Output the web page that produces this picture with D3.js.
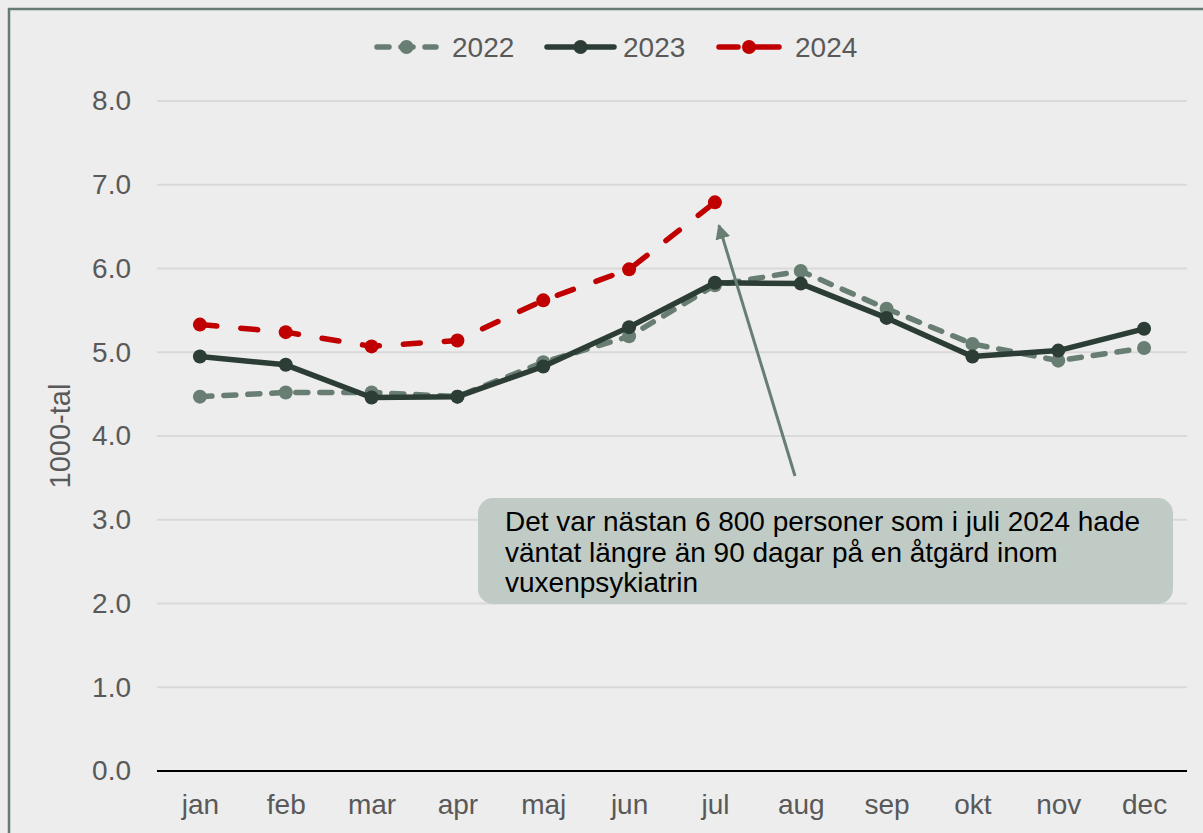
<!DOCTYPE html>
<html>
<head>
<meta charset="utf-8">
<script src="https://cdn.jsdelivr.net/npm/d3@7"></script>
<style>
	html, body { margin: 0; padding: 0; background: #ededed; }
	svg { display: block; font-family: 'Liberation Sans', Arial, sans-serif; }
</style>
</head>
<body>
<div id="viz"></div>
<script>
const MONTHS = ['jan', 'feb', 'mar', 'apr', 'maj', 'jun', 'jul', 'aug', 'sep', 'okt', 'nov', 'dec']
const Y_TICKS = [0, 1, 2, 3, 4, 5, 6, 7, 8]
const SERIES_NAMES = ['2022', '2023', '2024']
const VALUES_2022 = [4.47, 4.52, 4.52, 4.47, 4.88, 5.19, 5.80, 5.97, 5.52, 5.10, 4.90, 5.05]
const VALUES_2023 = [4.95, 4.85, 4.46, 4.47, 4.83, 5.30, 5.83, 5.82, 5.41, 4.95, 5.02, 5.28]
const VALUES_2024 = [5.33, 5.24, 5.07, 5.14, 5.62, 5.99, 6.79]
const NOTE_LINES = [
	'Det var nästan 6 800 personer som i juli 2024 hade',
	'väntat längre än 90 dagar på en åtgärd inom',
	'vuxenpsykiatrin'
]

const WIDTH = 1203
const HEIGHT = 833

const styles = {
	'2022': { color: '#687e72', dash: '12,12', legendDash: '12,12' },
	'2023': { color: '#2b3d35', dash: null, legendDash: null },
	'2024': { color: '#c00000', dash: '17,24', legendDash: '19,12,40' }
}

const series = [
	{ name: '2022', values: VALUES_2022 },
	{ name: '2023', values: VALUES_2023 },
	{ name: '2024', values: VALUES_2024 }
]

const svg = d3
	.select('#viz')
	.append('svg')
	.attr('width', WIDTH)
	.attr('height', HEIGHT)

svg.append('rect')
	.attr('width', WIDTH)
	.attr('height', HEIGHT)
	.attr('fill', '#ededed')

// outer frame (only top/left visible in reference)
svg.append('rect')
	.attr('x', 9)
	.attr('y', 9)
	.attr('width', WIDTH + 20)
	.attr('height', HEIGHT + 20)
	.attr('fill', 'none')
	.attr('stroke', '#667c72')
	.attr('stroke-width', 2.5)

const x = d3.scalePoint().domain(MONTHS).range([157, 1187]).padding(0.5)
const y = d3.scaleLinear().domain([0, 8]).range([771, 101])

// gridlines
svg.append('g')
	.selectAll('line')
	.data(Y_TICKS.filter((d) => d > 0))
	.enter()
	.append('line')
	.attr('x1', 157)
	.attr('x2', 1187)
	.attr('y1', (d) => y(d))
	.attr('y2', (d) => y(d))
	.attr('stroke', '#d9d9d9')
	.attr('stroke-width', 2)

// y axis labels
const yAxis = svg.append('g')
	.attr('transform', 'translate(157,0)')
	.call(d3.axisLeft(y).tickValues(Y_TICKS).tickFormat(d3.format('.1f')).tickSize(0).tickPadding(26))
yAxis.select('.domain').remove()
yAxis.selectAll('text')
	.attr('fill', '#595959')
	.style('font-size', '28px')
	.style('font-family', "'Liberation Sans', Arial, sans-serif")

// x axis
const xAxis = svg.append('g')
	.attr('transform', `translate(0,${y(0)})`)
	.call(d3.axisBottom(x).tickSize(0).tickPadding(23))
xAxis.select('.domain').remove()
xAxis.selectAll('text')
	.attr('fill', '#595959')
	.style('font-size', '28px')
	.style('font-family', "'Liberation Sans', Arial, sans-serif")

svg.append('line')
	.attr('x1', 157)
	.attr('x2', 1187)
	.attr('y1', y(0))
	.attr('y2', y(0))
	.attr('stroke', '#000')
	.attr('stroke-width', 2)

svg.append('text')
	.attr('transform', `translate(70,${y(4)}) rotate(-90)`)
	.attr('text-anchor', 'middle')
	.attr('fill', '#595959')
	.style('font-size', '29px')
	.text('1000-tal')

// lines
const line = d3.line()
	.x((d, i) => x(MONTHS[i]))
	.y((d) => y(d))

for (let s of series) {
	const st = styles[s.name]
	svg.append('path')
		.datum(s.values)
		.attr('d', line)
		.attr('fill', 'none')
		.attr('stroke', st.color)
		.attr('stroke-width', 5.5)
		.attr('stroke-linecap', 'round')
		.attr('stroke-linejoin', 'round')
		.attr('stroke-dasharray', st.dash)

	svg.append('g')
		.selectAll('circle')
		.data(s.values)
		.enter()
		.append('circle')
		.attr('cx', (d, i) => x(MONTHS[i]))
		.attr('cy', (d) => y(d))
		.attr('r', 7)
		.attr('fill', st.color)
}

// legend
const legendItems = [
	{ name: '2022', x1: 374, x2: 439, tx: 452 },
	{ name: '2023', x1: 544, x2: 617, tx: 623 },
	{ name: '2024', x1: 716, x2: 782, tx: 795 }
]
const legend = svg.append('g')
for (let item of legendItems) {
	const st = styles[item.name]
	legend.append('line')
		.attr('x1', item.x1 + 3)
		.attr('x2', item.x2 - 3)
		.attr('y1', 47)
		.attr('y2', 47)
		.attr('stroke', st.color)
		.attr('stroke-width', 5.5)
		.attr('stroke-linecap', 'round')
		.attr('stroke-dasharray', st.legendDash)
	legend.append('circle')
		.attr('cx', (item.x1 + item.x2) / 2)
		.attr('cy', 47)
		.attr('r', 7)
		.attr('fill', st.color)
	legend.append('text')
		.attr('x', item.tx)
		.attr('y', 57)
		.attr('fill', '#595959')
		.style('font-size', '28px')
		.text(item.name)
}

// annotation arrow
const tipX = x('jul') + 4
const tipY = y(VALUES_2024[6]) + 23
const tailX = 795
const tailY = 476
svg.append('defs')
	.append('marker')
	.attr('id', 'arrowhead')
	.attr('viewBox', '0 0 10 10')
	.attr('refX', 9)
	.attr('refY', 5)
	.attr('markerWidth', 5)
	.attr('markerHeight', 5)
	.attr('orient', 'auto')
	.append('path')
	.attr('d', 'M0,0 L10,5 L0,10 z')
	.attr('fill', '#687e72')
svg.append('line')
	.attr('x1', tailX)
	.attr('y1', tailY)
	.attr('x2', tipX)
	.attr('y2', tipY)
	.attr('stroke', '#687e72')
	.attr('stroke-width', 3)
	.attr('marker-end', 'url(#arrowhead)')

// annotation box
svg.append('rect')
	.attr('x', 478)
	.attr('y', 498)
	.attr('width', 695)
	.attr('height', 106)
	.attr('rx', 15)
	.attr('fill', '#c1cbc5')

svg.append('g')
	.selectAll('text')
	.data(NOTE_LINES)
	.enter()
	.append('text')
	.attr('x', 505)
	.attr('y', (d, i) => 531 + i * 30.5)
	.attr('fill', '#000')
	.style('font-size', '28px')
	.text((d) => d)
</script>
</body>
</html>
